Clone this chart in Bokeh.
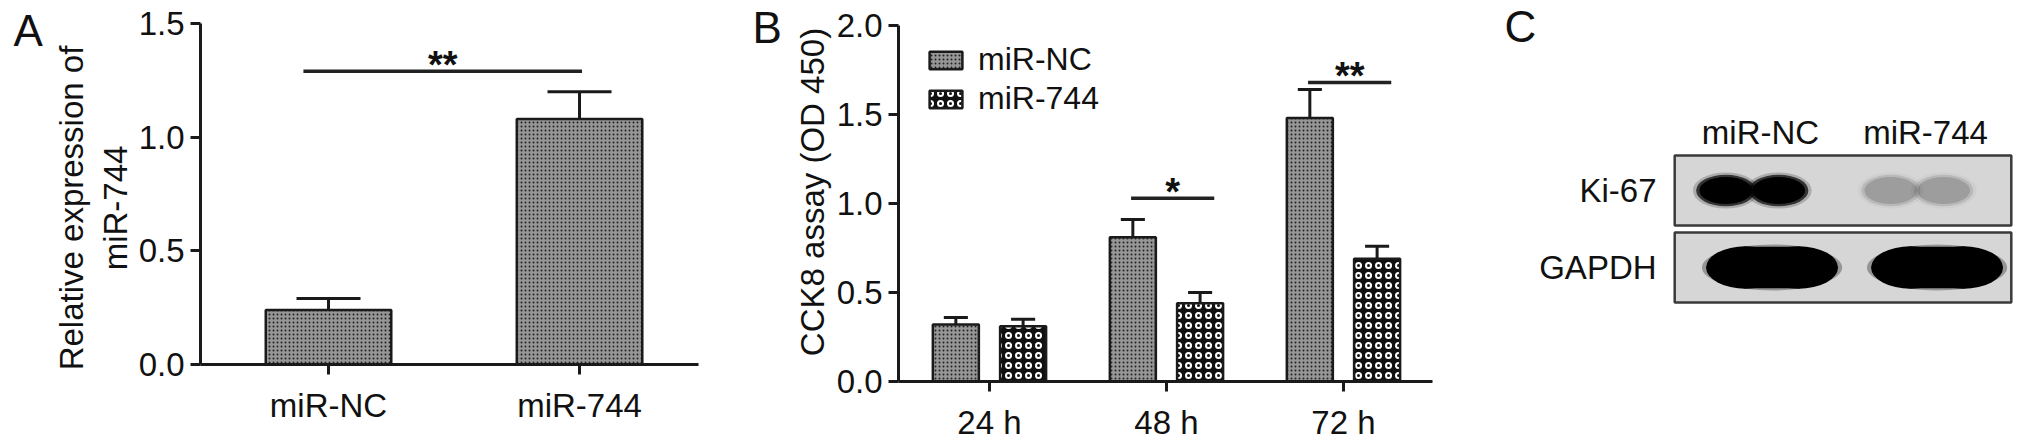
import numpy as np
from bokeh.plotting import figure
from bokeh.models import (Range1d, FixedTicker, PrintfTickFormatter, Legend,
                          LegendItem, ColumnDataSource)
from bokeh.layouts import row
from bokeh.embed import file_html
from bokeh.resources import INLINE
from bokeh.core.properties import value

FONT = "Liberation Sans"
FS = "33px"
INK = "#1a1a1a"
TXT = "#111111"
H = 444          # page height
BOT = 63         # shared bottom border of all panels
FRAME_H = H - BOT

# ---------------- data ----------------
# Panel A: relative expression of miR-744
a_groups = ["miR-NC", "miR-744"]
a_means = [0.24, 1.08]
a_sems = [0.05, 0.12]
a_sig_level = 1.29
a_sig_text = "**"
a_yticks = [0.0, 0.5, 1.0, 1.5]
a_ytitle = ["Relative expression of", "miR-744"]

# Panel B: CCK8 assay (OD 450)
b_times = ["24 h", "48 h", "72 h"]
b_series = ["miR-NC", "miR-744"]
b_nc_means = [0.32, 0.81, 1.48]
b_nc_sems = [0.04, 0.10, 0.16]
b_744_means = [0.31, 0.44, 0.69]
b_744_sems = [0.04, 0.06, 0.07]
b_sig_times = [1, 2]
b_sig_levels = [1.03, 1.68]
b_sig_texts = ["*", "**"]
b_yticks = [0.0, 0.5, 1.0, 1.5, 2.0]
b_ytitle = ["CCK8 assay (OD 450)"]

# Panel C: western blot
c_lanes = ["miR-NC", "miR-744"]
c_proteins = ["Ki-67", "GAPDH"]
c_ki67_signal = [1.0, 0.15]
c_gapdh_signal = [1.0, 1.0]


def style(p):
    for ax in p.axis:
        ax.axis_line_width = 3
        ax.axis_line_color = INK
        ax.major_tick_line_width = 3
        ax.major_tick_line_color = INK
        ax.major_tick_in = 0
        ax.major_tick_out = 10
        ax.minor_tick_line_color = None
        ax.major_label_text_font = FONT
        ax.major_label_text_font_size = FS
        ax.major_label_text_color = TXT
    p.xgrid.visible = False
    p.ygrid.visible = False
    p.outline_line_color = None
    p.background_fill_color = "white"
    p.border_fill_color = "white"


def gutter(left, right, letter, letter_x, letter_cy, titles, title_xs, title_cy):
    """Narrow panel holding the panel letter and the rotated y-axis title (page pixels)."""
    f = figure(width=right - left, height=H, x_range=Range1d(left, right),
               y_range=Range1d(0, FRAME_H), output_backend="svg", toolbar_location=None,
               min_border_left=0, min_border_right=0, min_border_top=0, min_border_bottom=BOT,
               x_axis_location=None, y_axis_location=None)
    f.xgrid.visible = False
    f.ygrid.visible = False
    f.outline_line_color = None
    f.text(x=[letter_x], y=[FRAME_H - letter_cy], text=[letter], text_font=value(FONT),
           text_font_size=value("44px"), text_baseline="middle", text_align="left",
           text_color=TXT)
    f.text(x=title_xs, y=[FRAME_H - title_cy] * len(titles), text=titles,
           text_font=value(FONT), text_font_size=value(FS), text_baseline="middle",
           text_align="center", angle=np.pi / 2, text_color=TXT)
    return f


NC_STYLE = dict(fill_color="#969696", hatch_pattern=".", hatch_color="#222222",
                hatch_scale=4, hatch_weight=2, line_color=INK, line_width=2.5)
M744_STYLE = dict(fill_color="#111111", hatch_pattern="o", hatch_color="white",
                  hatch_scale=10, hatch_weight=2, line_color=INK, line_width=2.5)
STAR = dict(text_font=value(FONT), text_font_size=value("38px"), text_font_style="bold",
            text_align="center", text_baseline="middle", y_offset=-6, text_color=TXT)

# ---------------- Panel A ----------------
gA = gutter(0, 135, "A", 13, 30, a_ytitle, [70.5, 114.6], 207.5)
pA = figure(width=565, height=364 + BOT, x_range=Range1d(-0.51, 1.474),
            y_range=Range1d(0, 1.5 * 364 / 341),
            output_backend="svg", toolbar_location=None,
            min_border_left=65, min_border_right=2, min_border_top=0, min_border_bottom=BOT)
xa = np.arange(len(a_groups), dtype=float)
a_top = np.array(a_means)
a_err = a_top + np.array(a_sems)
capA = 0.255
srcA = ColumnDataSource(dict(x=xa, top=a_top, err=a_err, c0=xa - capA / 2, c1=xa + capA / 2))
pA.segment(x0="x", y0="top", x1="x", y1="err", source=srcA, line_width=3, line_color=INK)
pA.segment(x0="c0", y0="err", x1="c1", y1="err", source=srcA, line_width=3, line_color=INK)
pA.vbar(x="x", top="top", width=0.5, bottom=0, source=srcA, **NC_STYLE)
pA.segment(x0=[xa[0] - 0.10], y0=[a_sig_level], x1=[xa[1] + 0.01], y1=[a_sig_level],
           line_width=3.5, line_color="#222222")
pA.text(x=[(xa[0] - 0.10 + xa[1] + 0.01) / 2], y=[a_sig_level], text=[a_sig_text], **STAR)
pA.xaxis.ticker = FixedTicker(ticks=list(xa))
pA.xaxis.major_label_overrides = {float(i): g for i, g in zip(xa, a_groups)}
pA.xaxis.major_label_standoff = 12
pA.yaxis.ticker = FixedTicker(ticks=a_yticks)
pA.yaxis.bounds = (a_yticks[0], a_yticks[-1])
pA.yaxis.formatter = PrintfTickFormatter(format="%.1f")
pA.yaxis.major_label_standoff = 6
style(pA)

# ---------------- Panel B ----------------
gB = gutter(700, 833, "B", 752, 27, b_ytitle, [811.6], 191.5)
pB = figure(width=607, height=H, x_range=Range1d(-0.514, 2.503),
            y_range=Range1d(0, 2.0 * 381 / 356),
            output_backend="svg", toolbar_location=None,
            min_border_left=65, min_border_right=8, min_border_top=0, min_border_bottom=BOT)
xb = np.arange(len(b_times), dtype=float)
off, bw, capB = 0.19, 0.26, 0.136
renderers = []
for means, sems, sgn, sty in [(b_nc_means, b_nc_sems, -1, NC_STYLE),
                              (b_744_means, b_744_sems, 1, M744_STYLE)]:
    xs = xb + sgn * off
    top = np.array(means)
    err = top + np.array(sems)
    src = ColumnDataSource(dict(x=xs, top=top, err=err, c0=xs - capB / 2, c1=xs + capB / 2))
    pB.segment(x0="x", y0="top", x1="x", y1="err", source=src, line_width=3, line_color=INK)
    pB.segment(x0="c0", y0="err", x1="c1", y1="err", source=src, line_width=3, line_color=INK)
    renderers.append(pB.vbar(x="x", top="top", width=bw, bottom=0, source=src, **sty))
st = np.array(b_sig_times, dtype=float)
s0 = st - off - 0.01
s1 = st + off + 0.08
pB.segment(x0=s0, y0=b_sig_levels, x1=s1, y1=b_sig_levels, line_width=3.5, line_color="#222222")
pB.text(x=(s0 + s1) / 2, y=b_sig_levels, text=b_sig_texts, **STAR)
pB.xaxis.ticker = FixedTicker(ticks=list(xb))
pB.xaxis.major_label_overrides = {float(i): t for i, t in zip(xb, b_times)}
pB.xaxis.major_label_standoff = 12
pB.yaxis.ticker = FixedTicker(ticks=b_yticks)
pB.yaxis.bounds = (b_yticks[0], b_yticks[-1])
pB.yaxis.formatter = PrintfTickFormatter(format="%.1f")
pB.yaxis.major_label_standoff = 6
style(pB)
legend = Legend(items=[LegendItem(label=b_series[0], renderers=[renderers[0]]),
                       LegendItem(label=b_series[1], renderers=[renderers[1]])],
                location=(27, 264), border_line_color=None, background_fill_alpha=0,
                glyph_width=41, glyph_height=22, label_text_font=FONT,
                label_text_font_size="32px", label_text_color=TXT,
                label_standoff=12, spacing=2, padding=0, margin=0)
pB.add_layout(legend)

# ---------------- Panel C ----------------
# lanes at 0 and 1, rows: Ki-67 = 1, GAPDH = 0
C_LEFT, C_W = 1440, 592
LANE0_PX, LANE_PX = 1760, 165
ROW0_PX, ROW_PX = 267, 77
pC = figure(width=C_W, height=H,
            x_range=Range1d((C_LEFT - LANE0_PX) / LANE_PX, (C_LEFT + C_W - LANE0_PX) / LANE_PX),
            y_range=Range1d(-(FRAME_H - ROW0_PX) / ROW_PX, ROW0_PX / ROW_PX),
            output_backend="svg", toolbar_location=None, min_border_left=0,
            min_border_right=0, min_border_top=0, min_border_bottom=BOT,
            x_axis_location=None, y_axis_location=None)
pC.xgrid.visible = False
pC.ygrid.visible = False
pC.outline_line_color = None
lane_x = np.arange(len(c_lanes), dtype=float)
row_y = np.array([1.0, 0.0])
box_cx = lane_x.mean()
box_w = (lane_x[-1] - lane_x[0]) + 1.04
pC.rect(x=[box_cx] * 2, y=row_y, width=box_w, height=0.91, fill_color="#d6d6d6",
        line_color="#3a3a3a", line_width=2.5)

# Ki-67: two-lobed band per lane, intensity from signal
ki_x, ki_s = [], []
for lx, s in zip(lane_x, c_ki67_signal):
    for d in (-0.16, 0.16):
        ki_x.append(lx - 0.05 + d)
        ki_s.append(s)
ki_x, ki_s = np.array(ki_x), np.array(ki_s)
ki_y = np.full(len(ki_x), row_y[0])
pC.ellipse(x=ki_x, y=ki_y, width=0.40, height=0.47, fill_color="black",
           fill_alpha=ki_s * 0.2, line_color=None)
pC.ellipse(x=ki_x, y=ki_y, width=0.36, height=0.41, fill_color="black",
           fill_alpha=ki_s * 0.7, line_color=None)
pC.ellipse(x=ki_x, y=ki_y, width=0.32, height=0.35, fill_color="black",
           fill_alpha=ki_s, line_color=None)

# GAPDH: wide rounded band per lane
g_x = lane_x + 0.07
g_s = np.array(c_gapdh_signal)
g_y = np.full(len(g_x), row_y[1])
pC.ellipse(x=g_x, y=g_y, width=0.85, height=0.60, fill_color="black",
           fill_alpha=g_s * 0.3, line_color=None)
pC.rect(x=g_x, y=g_y, width=0.34, height=0.54, fill_color="black", fill_alpha=g_s,
        line_color=None)
for d in (-0.16, 0.16):
    pC.ellipse(x=g_x + d, y=g_y, width=0.48, height=0.55, fill_color="black",
               fill_alpha=g_s, line_color=None)

pC.text(x=lane_x, y=[row_y[0] + 0.75] * len(lane_x), text=c_lanes, text_font=value(FONT),
        text_font_size=value(FS), text_align="center", text_baseline="middle",
        text_color=TXT)
pC.text(x=[box_cx - box_w / 2 - 0.11] * 2, y=row_y, text=c_proteins, text_font=value(FONT),
        text_font_size=value(FS), text_align="right", text_baseline="middle",
        text_color=TXT)
pC.text(x=[(1504 - LANE0_PX) / LANE_PX], y=[(ROW0_PX - 26) / ROW_PX], text=["C"],
        text_font=value(FONT), text_font_size=value("44px"), text_baseline="middle",
        text_align="left", text_color=TXT)

layout = row(gA, pA, gB, pB, pC)
open("out.html", "w").write(file_html(layout, INLINE))
